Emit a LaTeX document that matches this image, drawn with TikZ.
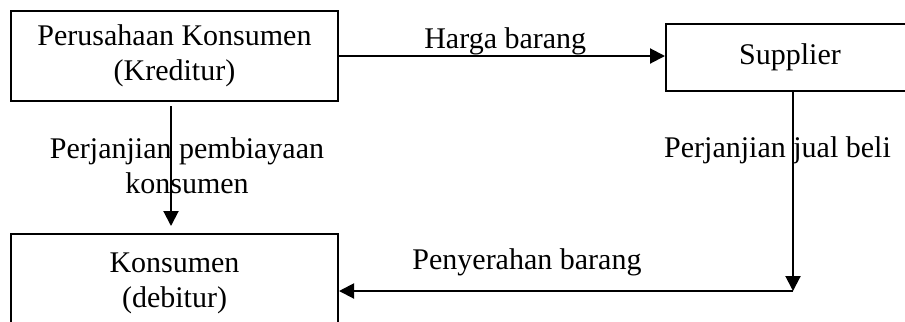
\documentclass[tikz,border=0pt]{standalone}
\usepackage{fontspec}
\setmainfont{Liberation Serif}
\usetikzlibrary{arrows.meta, positioning}

\begin{document}
\begin{tikzpicture}[x=0.4pt,y=-0.4pt,>={Triangle[length=6pt,width=6pt]},
  font=\fontsize{12}{14}\selectfont,
  kotak/.style={draw,line width=0.8pt,align=center,inner sep=0pt},
  garis/.style={->,line width=0.8pt},
  ket/.style={inner sep=0pt,align=center}]
\useasboundingbox (0,0) rectangle (905,321);
\clip (0,0) rectangle (905,321);
\node[kotak,minimum width=130.8pt,minimum height=36pt] (kreditur) at (174.5,56) {Perusahaan Konsumen\\(Kreditur)};
\node[kotak,minimum width=99.2pt,minimum height=26.7pt] (supplier) at (790,57.3) {Supplier};
\node[kotak,minimum width=130.8pt,minimum height=39.2pt] (debitur) at (174.5,283) {Konsumen\\(debitur)};
\coordinate (sudut) at (793,291);
\draw[garis] (kreditur.east) -- (kreditur.east -| supplier.west) node[ket,pos=0.51,above] (harga) {Harga barang};
\draw[garis] ([xshift=-1.4pt,yshift=-1.6pt]kreditur.south) -- ([xshift=-1.4pt,yshift=2.8pt]debitur.north) node[ket,midway,xshift=6.4pt] (pembiayaan) {Perjanjian pembiayaan\\konsumen};
\draw[garis] (supplier.south -| sudut) -- (sudut) node[ket,pos=0.295,xshift=-6.2pt] (jualbeli) {Perjanjian jual beli};
\draw[garis] (sudut) -- (sudut -| debitur.east) node[ket,pos=0.586,above=5.6pt] (penyerahan) {Penyerahan barang};
\end{tikzpicture}
\end{document}
